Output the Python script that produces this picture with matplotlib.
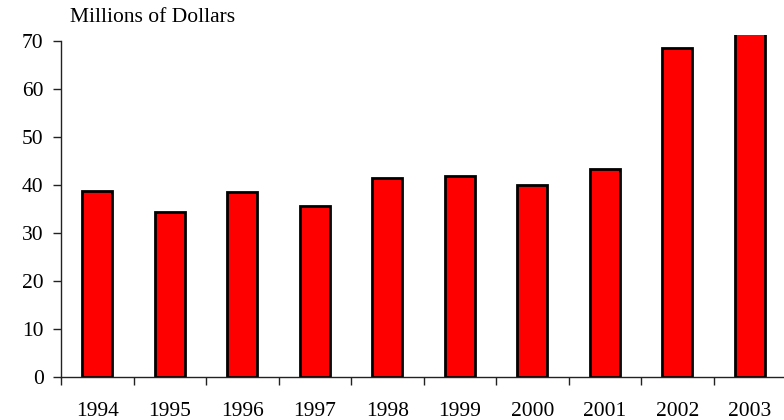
import matplotlib
matplotlib.use("Agg")
import matplotlib.pyplot as plt
import numpy as np

years = ["1994", "1995", "1996", "1997", "1998", "1999", "2000", "2001", "2002", "2003"]
values = [38.7, 34.3, 38.6, 35.6, 41.5, 41.8, 39.9, 43.3, 68.6, 72.5]
yticks = [0, 10, 20, 30, 40, 50, 60, 70]

plt.rcParams['font.family'] = ['Liberation Serif', 'DejaVu Serif']

fig = plt.figure(figsize=(7.84, 4.2), dpi=100)
ax = fig.add_axes([61/784, 43/420, 725/784, 342/420])

x = np.arange(len(years))
ax.bar(x, values, width=0.41, color='#ff0000', edgecolor='black', linewidth=2.0, zorder=2)

ax.set_xlim(-0.5, len(years) - 0.5)
ax.set_ylim(0, 71.25)
ax.set_yticks(yticks)
ax.set_yticklabels([str(t) for t in yticks], fontsize=15.5)
ax.set_xticks(x)
ax.set_xticklabels(years, fontsize=15.5)
ax.set_xticks(np.arange(-0.5, len(years) + 0.5, 1), minor=True)

ax.tick_params(axis='x', which='major', length=0, pad=18)
ax.tick_params(axis='x', which='minor', length=5.5, width=1, color='#222222', direction='out')
ax.tick_params(axis='y', which='major', length=5.5, width=1, color='#222222', pad=7, direction='out')

for s in ['top', 'right']:
    ax.spines[s].set_visible(False)
ax.spines['left'].set_bounds(0, 70)
ax.spines['left'].set_color('#222222')
ax.spines['bottom'].set_color('#222222')
ax.spines['left'].set_linewidth(1)
ax.spines['bottom'].set_linewidth(1)

fig.text(70/784, 1 - 22/420, "Millions of Dollars", fontsize=15.5, ha='left', va='baseline')

fig.savefig("out.png", dpi=100)
